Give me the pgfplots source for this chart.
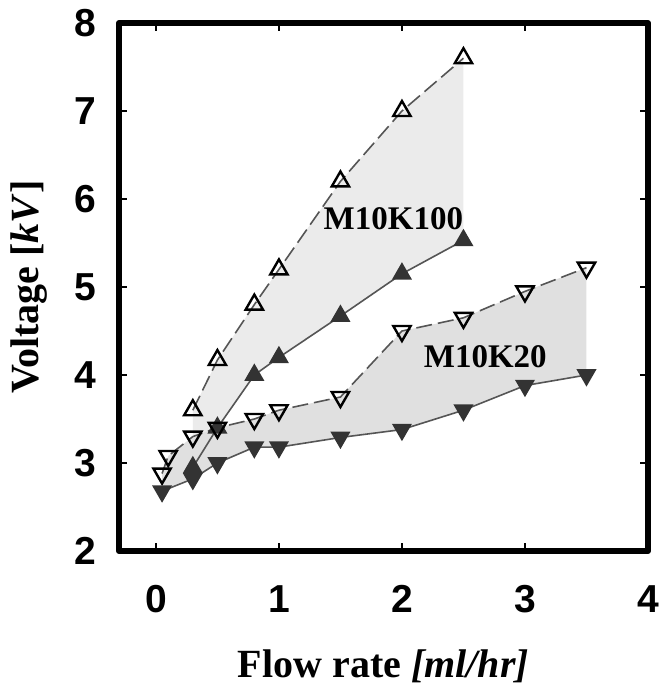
\documentclass[border=0pt]{standalone}
\usepackage{pgfplots}
\pgfplotsset{compat=1.18}
\usepgfplotslibrary{fillbetween}
\usepackage{fontspec}
\setmainfont{Liberation Serif}
\newfontfamily\tickfont{Liberation Sans}

\definecolor{linegray}{HTML}{555555}
\definecolor{fillA}{HTML}{EBEBEB}
\definecolor{fillB}{HTML}{E0E0E0}
\definecolor{markdark}{HTML}{333333}

\begin{document}
\begin{tikzpicture}
\begin{axis}[
    set layers,
    width=264.5pt, height=264pt, scale only axis,
    xmin=-0.3, xmax=4, ymin=2, ymax=8,
    xtick={0,1,2,3,4}, ytick={2,3,4,5,6,7,8},
    tick align=inside, major tick length=4pt,
    every tick/.style={black, line width=1pt},
    axis line style={line width=3pt, line join=round},
    /pgf/number format/assume math mode=true,
    tick label style={font=\fontsize{19.5}{19.5}\selectfont\tickfont\bfseries},
    xticklabel style={inner sep=0pt, anchor=north, yshift=-17pt},
    yticklabel style={inner sep=0pt, anchor=east, xshift=-11pt},
    xlabel={Flow rate \textit{[ml/hr]}},
    ylabel={Voltage [\textit{kV}]},
    label style={font=\fontsize{20}{20}\selectfont\bfseries},
    xlabel style={at={(axis description cs:0.5,-0.2405)}, anchor=base},
    ylabel style={at={(axis description cs:-0.17,0.5)}, anchor=center},
    clip=false,
]
% M10K100 upper (open triangles, dashed)
\addplot[name path=kAu, color=linegray, line width=0.8pt, dash pattern=on 8pt off 3pt,
    mark=triangle, mark size=5pt, mark options={solid, draw=black, fill=white, line width=1.2pt}]
    coordinates {(0.3,3.6) (0.5,4.17) (0.8,4.8) (1.0,5.2) (1.5,6.2) (2.0,7.0) (2.5,7.6)};
% M10K100 lower (filled triangles, solid)
\addplot[name path=kAl, color=linegray, line width=0.8pt,
    mark=triangle*, mark size=5pt, mark options={draw=markdark, fill=markdark}]
    coordinates {(0.3,2.95) (0.5,3.4) (0.8,4.0) (1.0,4.2) (1.5,4.67) (2.0,5.15) (2.5,5.53)};
% M10K20 upper (open down triangles, dashed)
\addplot[name path=kBu, color=linegray, line width=0.8pt, dash pattern=on 8pt off 3pt,
    mark=triangle, mark size=5pt, mark options={solid, rotate=180, draw=black, fill=white, line width=1.2pt}]
    coordinates {(0.05,2.88) (0.1,3.08) (0.3,3.3) (0.5,3.4) (0.8,3.5) (1.0,3.6) (1.5,3.75) (2.0,4.5) (2.5,4.65) (3.0,4.95) (3.5,5.22)};
% M10K20 lower (filled down triangles, solid)
\addplot[name path=kBl, color=linegray, line width=0.8pt,
    mark=triangle*, mark size=5pt, mark options={rotate=180, draw=markdark, fill=markdark}]
    coordinates {(0.05,2.68) (0.3,2.82) (0.5,3.0) (0.8,3.18) (1.0,3.18) (1.5,3.29) (2.0,3.38) (2.5,3.6) (3.0,3.88) (3.5,4.0)};

\addplot[fillA, draw=none] fill between[of=kAu and kAl];
\addplot[fillB, draw=none] fill between[of=kBu and kBl];

\node[font=\fontsize{16.5}{16.5}\selectfont\bfseries, anchor=base east, inner sep=0pt]
    at (axis cs:2.5,5.65) {M10K100};
\node[font=\fontsize{16.5}{16.5}\selectfont\bfseries, anchor=base east, inner sep=0pt]
    at (axis cs:3.18,4.08) {M10K20};
\end{axis}
% page margins as in the reference
\path (-59.5pt,-70.5pt) rectangle (271.5pt,275.5pt);
\end{tikzpicture}
\end{document}
